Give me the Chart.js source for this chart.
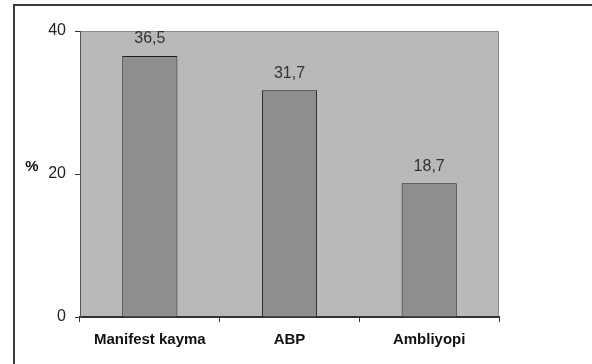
<!DOCTYPE html>
<html>
<head>
<meta charset="utf-8">
<script src="https://cdn.jsdelivr.net/npm/chart.js@4/dist/chart.umd.min.js"></script>
<style>
  body { margin: 0; background: #fff; }
  #wrap { width: 592px; height: 364px; position: relative; }
</style>
</head>
<body>
<div id="wrap"><canvas id="myChart" width="592" height="364"></canvas></div>
<script>
const categories = ["Manifest kayma", "ABP", "Ambliyopi"];
const percentValues = [36.5, 31.7, 18.7];
const valueLabels = ["36,5", "31,7", "18,7"];
const yTicks = [0, 20, 40];

// frame, grey plot background, "%" label and the numbers above bars
const decorPlugin = {
  id: "decor",
  beforeDraw(chart) {
    const ctx = chart.ctx;
    const a = chart.chartArea;
    ctx.save();
    ctx.fillStyle = "#fff";
    ctx.fillRect(0, 0, chart.width, chart.height);
    ctx.fillStyle = "#3a3a3a";
    ctx.fillRect(13, 4, chart.width - 13, 2);
    ctx.fillRect(13, 4, 2, chart.height - 4);
    ctx.fillStyle = "#b9b9b9";
    ctx.fillRect(a.left, a.top, a.right - a.left, a.bottom - a.top);
    ctx.strokeStyle = "#8a8a8a";
    ctx.lineWidth = 1;
    ctx.beginPath();
    ctx.moveTo(a.left, a.top + 0.5);
    ctx.lineTo(a.right - 0.5, a.top + 0.5);
    ctx.lineTo(a.right - 0.5, a.bottom);
    ctx.stroke();
    ctx.restore();
  },
  afterDraw(chart) {
    const ctx = chart.ctx;
    ctx.save();
    ctx.fillStyle = "#111";
    ctx.font = "bold 15px 'Liberation Sans', Arial, sans-serif";
    ctx.textAlign = "center";
    ctx.textBaseline = "middle";
    ctx.fillText("%", 32, 167);

    ctx.fillStyle = "#333";
    ctx.font = "16px 'Liberation Sans', Arial, sans-serif";
    const meta = chart.getDatasetMeta(0);
    meta.data.forEach((bar, i) => {
      ctx.fillText(valueLabels[i], bar.x, bar.y - 17);
    });
    ctx.restore();
  },
};

new Chart("myChart", {
  type: "bar",
  data: {
    labels: categories,
    datasets: [
      {
        data: percentValues,
        backgroundColor: "#8e8e8e",
        borderColor: "#1e1e1e",
        borderWidth: 1,
        barPercentage: 0.395,
        categoryPercentage: 1,
      },
    ],
  },
  plugins: [decorPlugin],
  options: {
    responsive: false,
    animation: false,
    devicePixelRatio: 1,
    layout: { padding: { top: 31, right: 93, left: 0, bottom: 0 } },
    plugins: {
      legend: { display: false },
      tooltip: { enabled: false },
    },
    scales: {
      x: {
        afterFit(scale) {
          scale.height = 47;
        },
        grid: {
          offset: true,
          drawOnChartArea: false,
          drawTicks: true,
          tickLength: 5,
          tickColor: "#333",
        },
        border: { display: true, color: "#333", width: 2 },
        ticks: {
          color: "#111",
          padding: 9,
          autoSkip: false,
          maxRotation: 0,
          minRotation: 0,
          font: { family: "'Liberation Sans', Arial", size: 15, weight: "bold" },
        },
      },
      y: {
        min: 0,
        max: 40,
        afterFit(scale) {
          scale.width = 80;
        },
        afterBuildTicks(scale) {
          scale.ticks = yTicks.map((v) => ({ value: v }));
        },
        grid: {
          drawOnChartArea: false,
          drawTicks: true,
          tickLength: 5,
          tickColor: "#333",
        },
        border: { display: true, color: "#555", width: 1 },
        ticks: {
          color: "#222",
          padding: 9,
          font: { family: "'Liberation Sans', Arial", size: 16 },
        },
      },
    },
  },
});
</script>
</body>
</html>
